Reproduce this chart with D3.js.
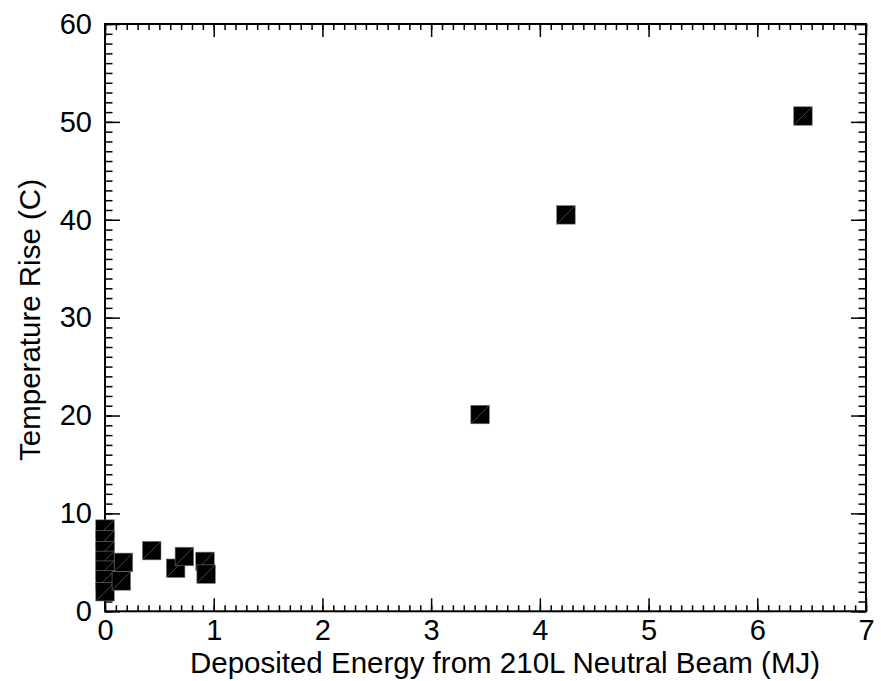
<!DOCTYPE html>
<html>
<head>
<meta charset="utf-8">
<script src="https://cdn.jsdelivr.net/npm/d3@7"></script>
<style>
  body { margin: 0; background: #fff; }
  svg { display: block; font-family: "Liberation Sans", Arial, sans-serif; }
  .axis text { font-size: 29px; fill: #000; }
  .axis line { stroke: #000; stroke-width: 1.5; }
  .axis-label { font-size: 29.5px; fill: #000; }
</style>
</head>
<body>
<div id="chart"></div>
<script>
// values
const energy = [0, 0, 0, 0, 0, 0, 0, 0.15, 0.17, 0.43, 0.65, 0.73, 0.92, 0.93, 3.45, 4.24, 6.42]
const tempRise = [8.4, 7.3, 6.2, 5.2, 4.2, 3.2, 2.0, 3.1, 5.0, 6.2, 4.4, 5.6, 5.1, 3.8, 20.1, 40.5, 50.6]
const xTicks = [0, 1, 2, 3, 4, 5, 6, 7]
const yTicks = [0, 10, 20, 30, 40, 50, 60]

var width = 881, height = 681
var margin = {left: 105, right: 15, top: 24, bottom: 70}
var markerSize = 18.5

var svg = d3.select("#chart").append("svg")
    .attr("width", width)
    .attr("height", height)

var xScale = d3.scaleLinear().domain([0, 7]).range([margin.left, width - margin.right])
var yScale = d3.scaleLinear().domain([0, 60]).range([height - margin.bottom + 0.3, margin.top])

var x0 = xScale.range()[0], x1 = xScale.range()[1]
var y0 = yScale.range()[0], y1 = yScale.range()[1]

// ticks point inward on all four sides, like the original
function addAxis(axis, tx, ty) {
    var g = svg.append("g")
        .attr("class", "axis")
        .attr("transform", "translate(" + tx + "," + ty + ")")
        .call(axis)
    g.select(".domain").remove()
    return g
}

var minorX = d3.range(0, 70.5).map(d => d / 10)
var minorY = d3.range(0, 61)

// bottom
addAxis(d3.axisBottom(xScale).tickValues(minorX).tickSize(-6).tickFormat(""), 0, y0)
addAxis(d3.axisBottom(xScale).tickValues(xTicks).tickSize(-13).tickPadding(8).tickFormat(d3.format("d")), 0, y0)
// top
addAxis(d3.axisTop(xScale).tickValues(minorX).tickSize(-6).tickFormat(""), 0, y1)
addAxis(d3.axisTop(xScale).tickValues(xTicks).tickSize(-13).tickFormat(""), 0, y1)
// left
addAxis(d3.axisLeft(yScale).tickValues(minorY).tickSize(-7.5).tickFormat(""), x0, 0)
addAxis(d3.axisLeft(yScale).tickValues(yTicks).tickSize(-15).tickPadding(13).tickFormat(d3.format("d")), x0, 0)
// right
addAxis(d3.axisRight(yScale).tickValues(minorY).tickSize(-7.5).tickFormat(""), x1, 0)
addAxis(d3.axisRight(yScale).tickValues(yTicks).tickSize(-15).tickFormat(""), x1, 0)

svg.append("rect")
    .attr("x", x0).attr("y", y1)
    .attr("width", x1 - x0).attr("height", y0 - y1)
    .attr("fill", "none")
    .attr("stroke", "#000")
    .attr("stroke-width", 2)

var points = energy.map((e, i) => ({x: e, y: tempRise[i]}))

var marks = svg.append("g").selectAll("g")
    .data(points)
    .enter()
    .append("g")
    .attr("transform", d => "translate(" + xScale(d.x) + "," + yScale(d.y) + ")")

marks.append("rect")
    .attr("x", -markerSize / 2).attr("y", -markerSize / 2)
    .attr("width", markerSize).attr("height", markerSize)
    .attr("fill", "#000")
    .attr("stroke", "#777")
    .attr("stroke-width", 0.6)

marks.append("line")
    .attr("x1", -markerSize / 2 + 0.5).attr("y1", markerSize / 2 - 0.5)
    .attr("x2", markerSize / 2 - 0.5).attr("y2", -markerSize / 2 + 0.5)
    .attr("stroke", "#666")
    .attr("stroke-width", 0.7)

svg.append("text")
    .attr("class", "axis-label")
    .attr("transform", "translate(" + 505 + "," + (height - 8) + ")")
    .style("text-anchor", "middle")
    .text("Deposited Energy from 210L Neutral Beam (MJ)")

svg.append("text")
    .attr("class", "axis-label")
    .attr("transform", "translate(" + 40 + "," + 320 + ")rotate(-90)")
    .style("text-anchor", "middle")
    .text("Temperature Rise (C)")
</script>
</body>
</html>
